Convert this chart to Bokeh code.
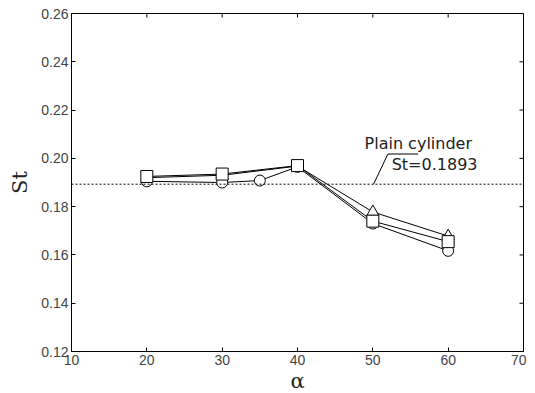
from bokeh.plotting import figure
from bokeh.models import Span, FixedTicker, Label, Range1d, PrintfTickFormatter
from bokeh.embed import file_html
from bokeh.resources import INLINE

# data
sq_x = [20, 30, 40, 50, 60]
sq_y = [0.1925, 0.1935, 0.1970, 0.1740, 0.1655]
tri_x = [20, 30, 40, 50, 60]
tri_y = [0.1920, 0.1930, 0.1968, 0.1778, 0.1678]
ci_x = [20, 30, 35, 40, 50, 60]
ci_y = [0.1905, 0.1900, 0.1908, 0.1965, 0.1730, 0.1617]
plain_st = 0.1893
x_ticks = [10, 20, 30, 40, 50, 60, 70]
y_ticks = [0.12, 0.14, 0.16, 0.18, 0.20, 0.22, 0.24, 0.26]
leader_x = [50.1, 52.0, 56.0]
leader_y = [0.1893, 0.2018, 0.2018]
label1 = "Plain cylinder"
label2 = "St=0.1893"

XMIN, XMAX, YMIN, YMAX = 10, 70, 0.12, 0.26

p = figure(frame_width=452, frame_height=338, output_backend="svg", toolbar_location=None,
           x_range=Range1d(XMIN, XMAX), y_range=Range1d(YMIN, YMAX),
           min_border_left=71, min_border_right=3, min_border_top=13, min_border_bottom=5)
p.background_fill_color = "white"
p.border_fill_color = "white"
p.grid.visible = False
p.outline_line_color = "black"
p.outline_line_width = 1

font = "Liberation Sans"
for ax in (p.xaxis[0], p.yaxis[0]):
    ax.major_tick_in = 4
    ax.major_tick_out = 0
    ax.minor_tick_in = 0
    ax.minor_tick_out = 0
    ax.major_label_text_font = font
    ax.major_label_text_font_size = "14px"
    ax.major_label_text_color = "#444444"
    ax.axis_label_text_font = "DejaVu Serif"
    ax.axis_label_text_font_style = "normal"
    ax.axis_label_text_font_size = "21px"
    ax.axis_label_text_color = "#222222"
    ax.axis_line_color = "black"
    ax.major_tick_line_color = "black"
    ax.major_label_standoff = 3
    ax.axis_label_standoff = 1

p.xaxis[0].ticker = FixedTicker(ticks=x_ticks)
p.yaxis[0].ticker = FixedTicker(ticks=y_ticks)
p.yaxis[0].formatter = PrintfTickFormatter(format="%.2f")
p.xaxis[0].axis_label = "α"
p.yaxis[0].axis_label = "St"
p.yaxis[0].axis_label_standoff = 6

# inward ticks on top and right edges (box style)
dx = (XMAX - XMIN) * 4 / 452
dy = (YMAX - YMIN) * 4 / 338
p.segment(x0=x_ticks, y0=[YMAX] * len(x_ticks), x1=x_ticks, y1=[YMAX - dy] * len(x_ticks),
          line_color="black", line_width=1)
p.segment(x0=[XMAX] * len(y_ticks), y0=y_ticks, x1=[XMAX - dx] * len(y_ticks), y1=y_ticks,
          line_color="black", line_width=1)

p.add_layout(Span(location=plain_st, dimension="width", line_color="black",
                  line_dash="2 2", line_width=1))

p.line(ci_x, ci_y, line_color="black", line_width=1)
p.line(tri_x, tri_y, line_color="black", line_width=1)
p.line(sq_x, sq_y, line_color="black", line_width=1)
p.scatter(ci_x, ci_y, marker="circle", size=11, fill_color="white", line_color="black")
p.scatter(tri_x, tri_y, marker="triangle", size=12, fill_color="white", line_color="black")
p.scatter(sq_x, sq_y, marker="square", size=12, fill_color="white", line_color="black")

p.line(leader_x, leader_y, line_color="black", line_width=1)
ann_font = "DejaVu Sans"
p.add_layout(Label(x=48.9, y=0.2062, text=label1, text_font=ann_font, text_font_size="16px",
                   text_baseline="middle", text_color="#222222"))
p.add_layout(Label(x=52.5, y=0.1976, text=label2, text_font=ann_font, text_font_size="16px",
                   text_baseline="middle", text_color="#222222"))

open("out.html", "w").write(file_html(p, INLINE))
